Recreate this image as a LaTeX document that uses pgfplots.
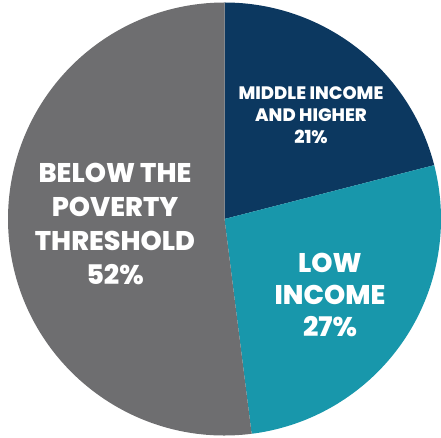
\documentclass[border=0pt]{standalone}
\usepackage{pgfplots}
\usepackage{pgfplotstable}
\usepackage{fontspec}
\setmainfont{Poppins}[BoldFont={* ExtraBold}]
\pgfplotsset{compat=1.18}
\definecolor{navy}{RGB}{12,56,96}
\definecolor{teal}{RGB}{24,151,171}
\definecolor{slate}{RGB}{110,110,112}
\pgfplotstableread{
label value
middle 21
low 27
below 52
}\piedata
\begin{document}
\begin{tikzpicture}
\pgfplotstablegetelem{0}{value}\of\piedata \let\va\pgfplotsretval
\pgfplotstablegetelem{1}{value}\of\piedata \let\vb\pgfplotsretval
\pgfplotstablegetelem{2}{value}\of\piedata \let\vc\pgfplotsretval
\pgfmathsetmacro\aA{90}
\pgfmathsetmacro\aB{90-3.6*\va}
\pgfmathsetmacro\aC{\aB-3.6*\vb}
\pgfmathsetmacro\aD{\aC-3.6*\vc}
\begin{axis}[
  width=441pt, height=438pt, scale only axis,
  xmin=0, xmax=441, ymin=0, ymax=438,
  hide axis, clip=false,
]
\def\cx{224.5}\def\cy{219}\def\R{216.5}
\fill[navy] (axis cs:\cx,\cy) -- ++(\aA:\R pt) arc[start angle=\aA, end angle=\aB, radius=\R pt] -- cycle;
\fill[teal] (axis cs:\cx,\cy) -- ++(\aB:\R pt) arc[start angle=\aB, end angle=\aC, radius=\R pt] -- cycle;
\fill[slate] (axis cs:\cx,\cy) -- ++(\aC:\R pt) arc[start angle=\aC, end angle=\aD, radius=\R pt] -- cycle;
\node[text=white, align=center, font=\bfseries\fontsize{18}{22}\selectfont, inner sep=0pt] at (axis cs:311,323) {MIDDLE INCOME\\AND HIGHER\\21\%};
\node[text=white, align=center, font=\bfseries\fontsize{27}{34}\selectfont, inner sep=0pt] at (axis cs:115,214) {BELOW THE\\POVERTY\\THRESHOLD\\52\%};
\node[text=white, align=center, font=\bfseries\fontsize{27}{32}\selectfont, inner sep=0pt] at (axis cs:330,143) {LOW\\INCOME\\27\%};
\end{axis}
\pgfresetboundingbox
\path (current axis.south west) rectangle (current axis.north east);
\end{tikzpicture}
\end{document}
